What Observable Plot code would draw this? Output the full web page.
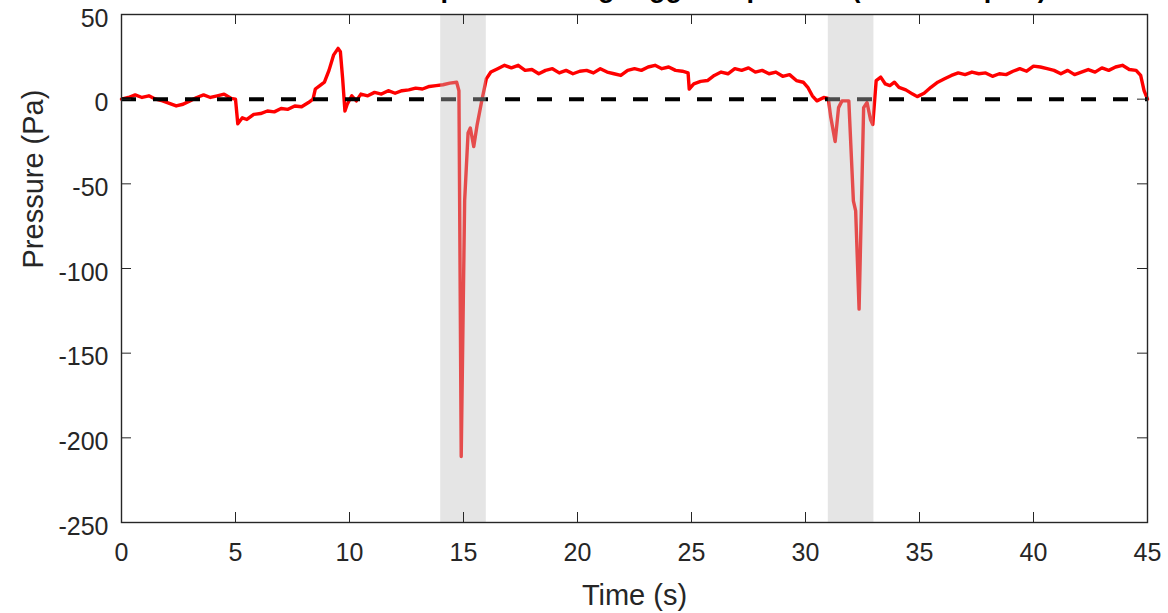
<!DOCTYPE html>
<html>
<head>
<meta charset="utf-8">
<script src="https://cdn.jsdelivr.net/npm/d3@7"></script>
<script src="https://cdn.jsdelivr.net/npm/@observablehq/plot@0.6"></script>
<style>
  html, body { margin: 0; padding: 0; background: #fff; overflow: hidden; }
</style>
</head>
<body>
<div id="chart"></div>
<script>
// ---- data ----
const time = [
  0, 0.3, 0.6, 0.9, 1.2, 1.5, 1.8, 2.1, 2.4, 2.7, 3.0, 3.3, 3.6, 3.9, 4.2, 4.5, 4.8, 5.0,
  5.1, 5.3, 5.5, 5.8, 6.1, 6.4, 6.7, 7.0, 7.3, 7.6, 7.9, 8.2, 8.4, 8.5, 8.7, 8.9, 9.1, 9.3,
  9.5, 9.6, 9.7, 9.8, 9.9, 10.1, 10.3, 10.5, 10.8, 11.1, 11.4, 11.7, 12.0, 12.3, 12.6, 12.9,
  13.2, 13.5, 13.8, 14.1, 14.4, 14.7, 14.8, 14.9, 15.05, 15.2, 15.3, 15.45, 15.6, 15.8, 16.0,
  16.2, 16.5, 16.8, 17.1, 17.4, 17.7, 18.0, 18.3, 18.6, 18.9, 19.2, 19.5, 19.8, 20.1, 20.4,
  20.7, 21.0, 21.3, 21.6, 21.9, 22.2, 22.5, 22.8, 23.1, 23.4, 23.7, 24.0, 24.3, 24.6, 24.85,
  24.9, 25.1, 25.4, 25.7, 26.0, 26.3, 26.6, 26.9, 27.2, 27.5, 27.8, 28.1, 28.4, 28.7, 29.0,
  29.3, 29.6, 29.9, 30.1, 30.3, 30.5, 30.8, 31.0, 31.1, 31.3, 31.45, 31.6, 31.9, 32.1, 32.2,
  32.35, 32.55, 32.7, 32.85, 32.95, 33.1, 33.3, 33.5, 33.7, 33.9, 34.1, 34.4, 34.7, 34.9,
  35.2, 35.5, 35.8, 36.1, 36.4, 36.7, 37.0, 37.3, 37.6, 37.9, 38.2, 38.5, 38.8, 39.1, 39.4,
  39.7, 40.0, 40.3, 40.6, 40.9, 41.2, 41.5, 41.8, 42.1, 42.4, 42.7, 43.0, 43.3, 43.6, 43.9,
  44.2, 44.5, 44.7, 44.85, 45.0
];
const pressure = [
  0, 1, 2.5, 1, 2, 0, -1, -2.5, -4, -3, -1, 1, 2.5, 1, 2, 3, 0.5, 0,
  -14.5, -11, -12, -9, -8.5, -7, -7.5, -5.5, -6, -4, -4.5, -2, 0, 6, 8, 10, 17, 26,
  30, 28, 12, -7, -3, 2, -1, 3, 2, 4, 3, 5, 3.5, 5, 5.5, 6.5,
  6, 7.5, 8, 8.5, 9.5, 10, 5, -211, -60, -20, -17, -28, -15, -1, 12,
  16, 18, 20, 18.5, 20, 17, 17.5, 15, 17, 18, 15.5, 17, 15, 16.5, 17,
  15.5, 18, 16, 15, 14, 17, 18, 17, 19, 20, 18, 19, 17, 16.5, 15.5,
  6, 9, 10.5, 11, 14, 16, 15, 18, 17, 18.5, 16, 17, 15, 16, 13.5,
  14.5, 11, 10, 7, 2, -1, 1, 0.5, -10, -25, -5, -1, -1, -60, -66,
  -124, -5, -2, -12, -15, 11, 13, 9, 8, 10, 7, 5.5, 3, 1.5,
  3.5, 7, 10, 12, 14, 15.5, 14.5, 16, 15, 15.5, 13.5, 15, 14.5, 16.5, 18,
  16.5, 19.5, 19, 18, 17, 15, 17, 14.5, 16, 17.5, 16, 18.5, 17, 19, 20,
  17.5, 17, 14, 5, 0
];
const bandStart = [14, 31];
const bandEnd = [16, 33];
const referenceLevel = [0];
const xTicks = [0, 5, 10, 15, 20, 25, 30, 35, 40, 45];
const yTicks = [50, 0, -50, -100, -150, -200, -250];
const titleText = "Pressure profile during triggered periods (two examples)";
const xLabel = "Time (s)";
const yLabel = "Pressure (Pa)";

// ---- build tables ----
const series = time.map((t, i) => ({t, p: pressure[i]}));
const bands = bandStart.map((s, i) => ({s, e: bandEnd[i]}));

const ink = "#262626";
const W = 1168, H = 613;
const mL = 121, mR = 21, mT = 14, mB = 91;
const frameW = W - mL - mR, frameH = H - mT - mB;
const tickLen = 10;
const plain = d => String(d); // hyphen-minus, as in the reference

const chart = Plot.plot({
  width: W,
  height: H,
  marginLeft: mL,
  marginRight: mR,
  marginTop: mT,
  marginBottom: mB,
  style: {
    fontFamily: "'Liberation Sans', Arial, Helvetica, sans-serif",
    fontSize: "25px",
    color: ink,
    background: "#fff",
    overflow: "visible"
  },
  x: {domain: [0, 45], ticks: xTicks},
  y: {domain: [-250, 50], ticks: yTicks},
  marks: [
    Plot.line(series, {x: "t", y: "p", stroke: "#ff0000", strokeWidth: 3.4, strokeLinejoin: "round", strokeLinecap: "round"}),
    Plot.ruleY(referenceLevel, {stroke: "#000", strokeWidth: 4, strokeDasharray: "15,17"}),
    Plot.rect(bands, {x1: "s", x2: "e", fill: "#bebebe", fillOpacity: 0.4}),
    // inward ticks on all four sides
    Plot.ruleX(xTicks, {stroke: ink, strokeWidth: 1, insetTop: frameH - tickLen}),
    Plot.ruleX(xTicks, {stroke: ink, strokeWidth: 1, insetBottom: frameH - tickLen}),
    Plot.ruleY(yTicks, {stroke: ink, strokeWidth: 1, insetRight: frameW - tickLen}),
    Plot.ruleY(yTicks, {stroke: ink, strokeWidth: 1, insetLeft: frameW - tickLen}),
    Plot.frame({stroke: ink, strokeWidth: 1.4}),
    Plot.axisX({ticks: xTicks, tickSize: 0, tickPadding: 21, label: null, tickFormat: plain}),
    Plot.axisY({ticks: yTicks, tickSize: 0, tickPadding: 13, label: null, dy: 4, tickFormat: plain}),
    Plot.text([xLabel], {text: d => d, frameAnchor: "bottom", dy: 73, fontSize: 29, lineAnchor: "middle", fill: ink}),
    Plot.text([yLabel], {text: d => d, frameAnchor: "left", dx: -88, rotate: -90, fontSize: 29, lineAnchor: "middle", fill: ink}),
    Plot.text([titleText], {text: d => d, frameAnchor: "top-left", dx: 196, dy: -18, textAnchor: "start", lineAnchor: "bottom", fontSize: 27, fontWeight: "bold", fill: "#000"})
  ]
});
document.getElementById("chart").appendChild(chart);
</script>
</body>
</html>
